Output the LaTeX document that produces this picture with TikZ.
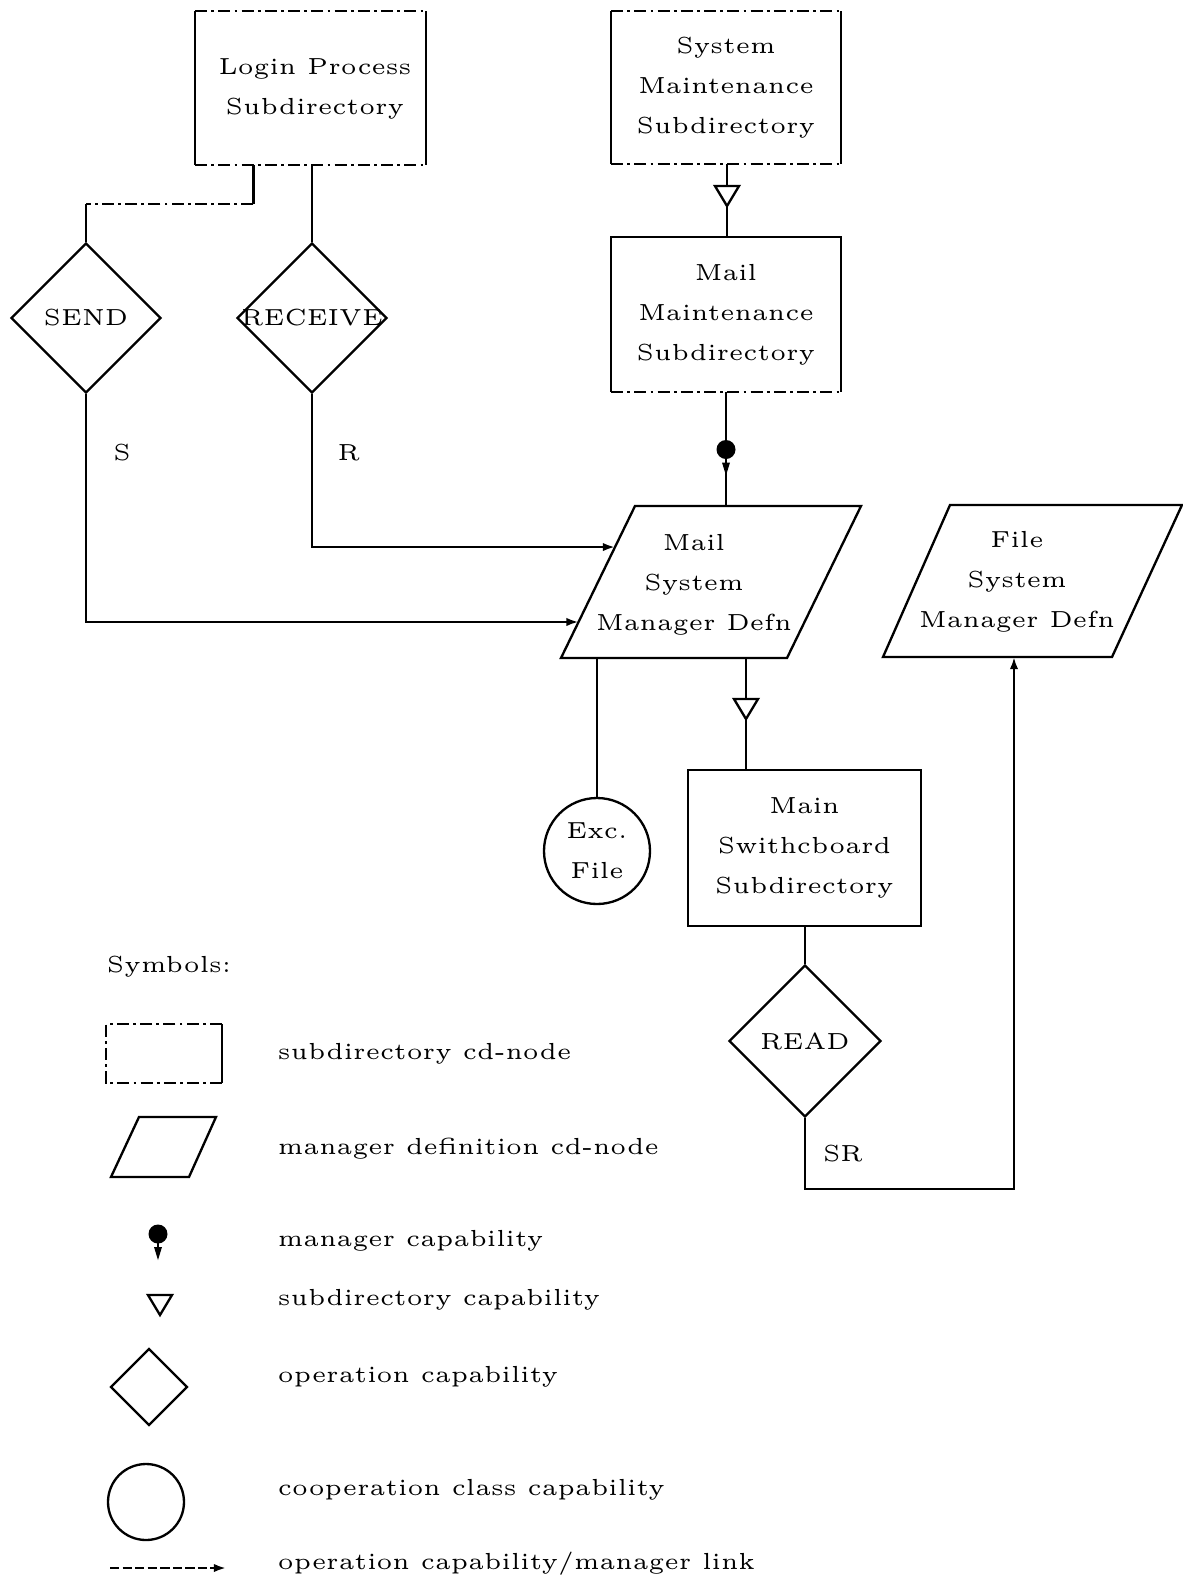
\documentclass[tikz,border=0pt]{standalone}
\usetikzlibrary{shapes.geometric,arrows.meta,calc}
\newlength{\pxu}
\setlength{\pxu}{0.215pt}
\tikzset{
  x=0.215pt, y=-0.215pt,
  every node/.style={font=\fontsize{5}{8.6}\selectfont, inner sep=0pt},
  conn/.style={line width=0.5pt},
  link/.style={conn, -{Latex[length=2.6pt,width=1.8pt]}},
  dashside/.style={line width=0.5pt, dash pattern=on 2.6pt off 0.9pt on 0.6pt off 0.9pt},
  boxnode/.style={rectangle, align=center, minimum width=#1\pxu},
  opdiamond/.style={diamond, draw, line width=0.5pt, aspect=1, minimum width=#1\pxu, minimum height=#1\pxu},
  coopcircle/.style={circle, draw, line width=0.5pt, align=center, minimum size=#1\pxu},
  subcap/.pic={\draw[line width=0.5pt, fill=white] (-12,-10) -- (12,-10) -- (0,10) -- cycle;},
  mgrcap/.pic={\fill (0,0) circle[radius=9.5\pxu]; \fill (-4,13) -- (4,13) -- (0,26) -- cycle;},
}
\begin{document}
\begin{tikzpicture}
\useasboundingbox (0,0) rectangle (1183,1583);

% ---------- subdirectory boxes ----------
\node[boxnode=229, minimum height=152\pxu] (login) at (310.5,88) {};
\node[align=center] (logintxt) at (315,89) {Login Process\\Subdirectory};
\node[boxnode=228, minimum height=151\pxu] (sysm) at (726,87.5) {System\\Maintenance\\Subdirectory};
\node[boxnode=228, minimum height=153\pxu] (mailm) at (726,314.5) {Mail\\Maintenance\\Subdirectory};
\node[boxnode=231, minimum height=154\pxu] (mainsw) at (804.5,848) {Main\\Swithcboard\\Subdirectory};

% outlines: solid sides, dash-dotted rules where the box is a subdirectory cd-node
\draw[conn] (login.north west) -- (login.south west) (login.north east) -- (login.south east);
\draw[dashside] (login.north west) -- (login.north east) (login.south west) -- (login.south east);
\draw[conn] (sysm.north west) -- (sysm.south west) (sysm.north east) -- (sysm.south east);
\draw[dashside] (sysm.north west) -- (sysm.north east) (sysm.south west) -- (sysm.south east);
\draw[conn] (mailm.south west) -- (mailm.north west) -- (mailm.north east) -- (mailm.south east);
\draw[dashside] (mailm.south west) -- (mailm.south east);
\draw[conn] (mainsw.north west) rectangle (mainsw.south east);

% ---------- operation diamonds ----------
\node[opdiamond=150] (send) at (86,318) {\makebox[0pt]{SEND}};
\node[opdiamond=150] (recv) at (312,318) {\makebox[0pt]{RECEIVE}};
\node[opdiamond=152] (read) at (805,1041) {\makebox[0pt]{READ}};

% ---------- manager definitions ----------
\coordinate (msmBL) at (561,658);
\coordinate (msmBR) at (787,658);
\coordinate (msmTR) at (861,506);
\coordinate (msmTL) at (635,506);
\draw[conn] (msmBL) -- (msmBR) -- (msmTR) -- (msmTL) -- cycle;
\node[align=center] (msm) at (694,585) {Mail\\System\\Manager Defn};

\coordinate (fsBL) at (883,657);
\coordinate (fsBR) at (1112,657);
\coordinate (fsTR) at (1182,505);
\coordinate (fsTL) at (950,505);
\draw[conn] (fsBL) -- (fsBR) -- (fsTR) -- (fsTL) -- cycle;
\node[align=center] (fsm) at (1017,582) {File\\System\\Manager Defn};

% ---------- cooperation class ----------
\node[coopcircle=106] (exc) at (597,851) {Exc.\\File};

% ---------- connectors ----------
\coordinate (lgA) at ($(login.south west)!0.253!(login.south east)$);
\coordinate (lgB) at ($(lgA)+(0,39)$);
\draw[conn] (lgA) -- (lgB);
\draw[dashside] (lgB) -- (lgB -| send.north);
\draw[conn] (lgB -| send.north) -- (send.north);
\draw[conn] (login.south -| recv.north) -- (recv.north);

\coordinate (inS) at ($(msmBL)!0.237!(msmTL)$);
\coordinate (inR) at ($(msmBL)!0.730!(msmTL)$);
\draw[link] (send.south) |- (inS);
\draw[link] (recv.south) |- (inR);
\node (lblS) at (122,453) {S};
\node (lblR) at (349,453) {R};

\coordinate (smLine) at (727,0);
\draw[conn] (sysm.south -| smLine) -- (mailm.north -| smLine);
\pic at (727,196) {subcap};

\coordinate (msmTop) at (mailm.south |- msmTL);
\draw[conn] (mailm.south) -- (msmTop);
\pic at (726,449.5) {mgrcap};

\draw[conn] (exc.north |- msmBL) -- (exc.north);

\coordinate (msmOut) at ($(msmBL)!0.818!(msmBR)$);
\draw[conn] (msmOut) -- (msmOut |- mainsw.north);
\pic at (746,709) {subcap};

\draw[conn] (mainsw.south -| read.north) -- (read.north);
\coordinate (srTurn) at (0,1189);
\coordinate (fsIn) at (1014,657);
\draw[link] (read.south) |- (srTurn -| fsIn) -- (fsIn);
\node (lblSR) at (843,1154) {SR};

% ---------- legend ----------
\node[anchor=west] (symhead) at (106,967) {Symbols:};

\node[rectangle, minimum width=114\pxu, minimum height=57\pxu] (keybox) at (164,1053.5) {};
\draw[dashside] (keybox.north east) -- (keybox.north west) -- (keybox.south west) -- (keybox.south east);
\draw[conn] (keybox.north east) -- (keybox.south east);
\node[anchor=west] (keyboxtxt) at (277,1054) {subdirectory cd-node};

\draw[conn] (111,1177) -- (189,1177) -- (216,1117) -- (139,1117) -- cycle;
\node[anchor=west] (keypartxt) at (277,1149) {manager definition cd-node};

\draw[conn] (158,1234) -- (158,1257);
\pic at (158,1234) {mgrcap};
\node[anchor=west] (keymgrtxt) at (277,1241) {manager capability};

\pic at (160,1305) {subcap};
\node[anchor=west] (keysubtxt) at (277,1300) {subdirectory capability};

\node[opdiamond=77] (keydiam) at (149,1387) {};
\node[anchor=west] (keydiamtxt) at (277,1377) {operation capability};

\node[coopcircle=76] (keycirc) at (146,1502) {};
\node[anchor=west] (keycirctxt) at (277,1490) {cooperation class capability};

\coordinate (keyarrA) at (110,1568);
\coordinate (keyarrB) at (226,1568);
\draw[link, dash pattern=on 2pt off 0.7pt] (keyarrA) -- (keyarrB);
\node[anchor=west] (keyarrtxt) at (277,1564) {operation capability/manager link};
\end{tikzpicture}
\end{document}
